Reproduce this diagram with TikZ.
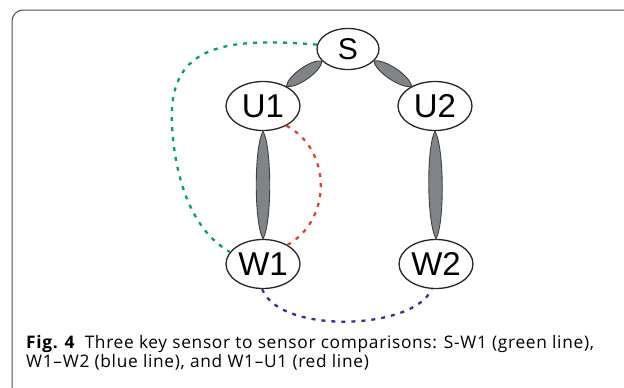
\documentclass[tikz,border=0pt]{standalone}
\usepackage{fontspec}
\setmainfont{Open Sans}
\newfontfamily\nodefont{Liberation Sans}
\newfontfamily\capfont[LetterSpace=4]{Open Sans}
\usetikzlibrary{shapes.geometric,calc}

\definecolor{sgreen}{RGB}{0,166,90}
\definecolor{sred}{RGB}{232,64,40}
\definecolor{sblue}{RGB}{52,48,160}
\definecolor{lensgray}{RGB}{128,131,136}

\begin{document}
\begin{tikzpicture}[x=1pt,y=-1pt,
  sensor/.style={ellipse, draw=black!85, line width=1.3pt, inner sep=0pt,
    minimum width=74pt, minimum height=49pt, font=\nodefont\fontsize{33}{33}\selectfont},
  lens/.style={draw=black!75, line width=0.9pt, fill=lensgray},
  cmp/.style={line width=2.3pt, dash pattern=on 4pt off 6pt},
  captext/.style={anchor=base west, inner sep=0pt, font=\capfont\fontsize{17.3}{19}\selectfont}]
\useasboundingbox (0,0) rectangle (624,388);
\draw[black!70, line width=1pt, rounded corners=11pt] (12,388) -- (12,10) -- (624,10);

\node[sensor, minimum width=62pt, minimum height=41pt, font=\nodefont\fontsize{30}{30}\selectfont] (S) at (348,49) {S};
\node[sensor] (U1) at (263,106) {U1};
\node[sensor] (U2) at (435,106) {U2};
\node[sensor] (W1) at (263,264) {W1};
\node[sensor] (W2) at (436,264) {W2};

\foreach \a/\b/\w in {S.205/U1.40/8, S.-25/U2.140/8, U1.-90/W1.90/9, U2.-90/W2.90/9} {
  \draw[lens] (\a) .. controls ($($(\a)!0.15!(\b)$)!\w pt!90:(\b)$) and ($($(\b)!0.15!(\a)$)!\w pt!-90:(\a)$) .. (\b)
    .. controls ($($(\b)!0.15!(\a)$)!\w pt!90:(\a)$) and ($($(\a)!0.15!(\b)$)!\w pt!-90:(\b)$) .. (\a) -- cycle;
}

\draw[cmp, sgreen] (S.172) .. controls (215,36) and (168,50) .. (172,125)
  .. controls (176,195) and (200,235) .. (W1.160);
\draw[cmp, sred] (U1.-40) .. controls (332,150) and (332,220) .. (W1.38);
\draw[cmp, sblue] (W1.-92) .. controls (280,335) and (415,330) .. (W2.-100);

\node[captext] (cap1) at (26,348)
  {\textbf{Fig. 4}\hspace{0.55em}Three key sensor to sensor comparisons: S-W1 (green line),};
\node[captext] (cap2) at ([yshift=-19pt]cap1.base west)
  {W1–W2 (blue line), and W1–U1 (red line)};
\end{tikzpicture}
\end{document}
